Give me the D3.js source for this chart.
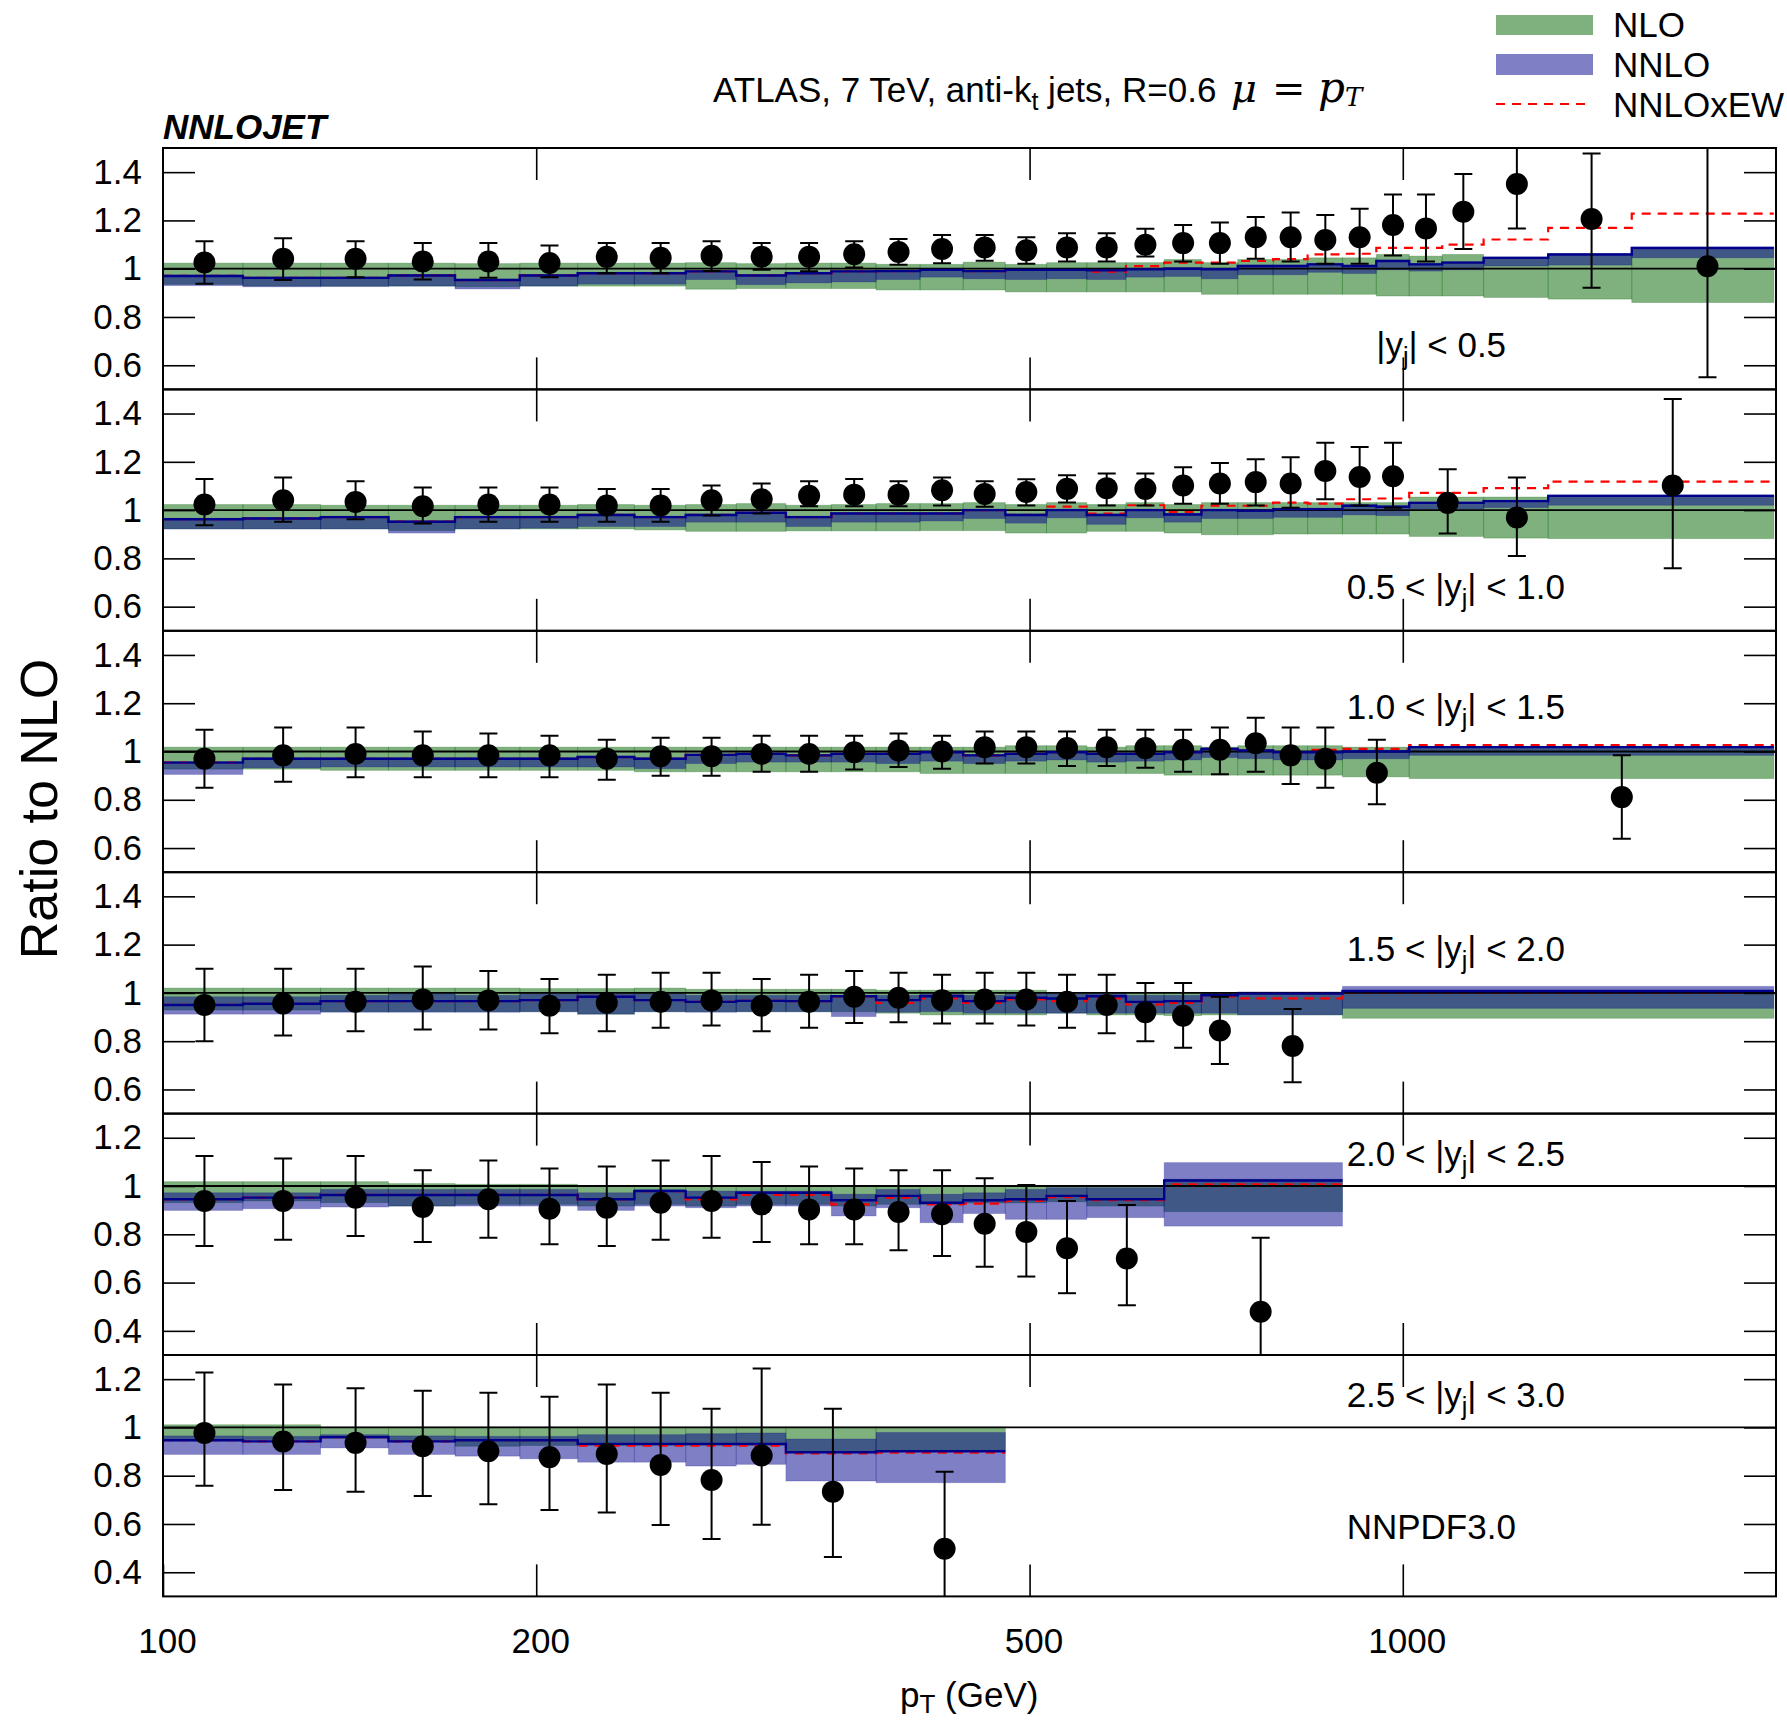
<!DOCTYPE html>
<html>
<head>
<meta charset="utf-8">
<script src="https://cdn.jsdelivr.net/npm/d3@7"></script>
<style>
  html, body { margin: 0; padding: 0; background: #fff; }
  svg { display: block; font-family: "Liberation Sans", Arial, sans-serif; }
</style>
</head>
<body>
<svg id="chart" width="1787" height="1721"></svg>
<script>
// ---- x axis ----
const xDomain = [100, 2000];
const xTickValues = [100, 200, 500, 1000];

// ---- |y| < 0.5 ----
const edges1 = [100,116,134,152,172,194,216,240,264,290,318,346,376,408,442,478,516,556,598,642,688,736,786,838,894,952,1012,1076,1162,1310,1530,1992];
const data1 = [1.026,1.041,1.041,1.030,1.030,1.024,1.049,1.045,1.054,1.050,1.050,1.060,1.069,1.082,1.088,1.076,1.088,1.088,1.099,1.106,1.106,1.130,1.130,1.119,1.130,1.181,1.167,1.236,1.351,1.206,1.010];
const lo1 = [0.938,0.953,0.965,0.955,0.962,0.965,0.981,0.981,0.990,0.996,0.989,1.005,1.016,1.023,1.033,1.020,1.030,1.030,1.051,1.030,1.020,1.041,1.030,1.020,1.020,1.055,1.030,1.082,1.167,0.921,0.550];
const hi1 = [1.114,1.126,1.114,1.106,1.106,1.096,1.106,1.106,1.114,1.106,1.106,1.114,1.123,1.140,1.140,1.130,1.147,1.147,1.166,1.181,1.191,1.214,1.233,1.222,1.248,1.307,1.307,1.392,1.520,1.477,1.620];
const nloLo1 = [0.935,0.928,0.928,0.928,0.925,0.928,0.928,0.928,0.915,0.918,0.918,0.918,0.912,0.912,0.912,0.904,0.904,0.904,0.904,0.904,0.894,0.894,0.894,0.894,0.894,0.887,0.887,0.887,0.881,0.874,0.860];
const nloHi1 = [1.023,1.023,1.023,1.023,1.021,1.023,1.023,1.023,1.025,1.021,1.023,1.023,1.018,1.018,1.027,1.018,1.025,1.025,1.025,1.038,1.025,1.038,1.038,1.045,1.045,1.059,1.052,1.059,1.045,1.059,1.080];
const nnlo1 = [0.970,0.962,0.962,0.972,0.953,0.972,0.981,0.981,0.989,0.972,0.981,0.989,0.990,0.995,0.990,0.995,0.995,0.993,0.997,1.000,0.998,1.011,1.011,1.018,1.011,1.032,1.018,1.025,1.045,1.059,1.086];
const nnloLo1 = [0.930,0.925,0.926,0.928,0.916,0.928,0.936,0.936,0.955,0.934,0.941,0.945,0.955,0.965,0.958,0.955,0.958,0.955,0.965,0.968,0.958,0.975,0.975,0.985,0.980,0.995,0.990,0.995,1.011,1.015,1.045];
const nnloHi1 = [0.974,0.966,0.966,0.976,0.957,0.976,0.985,0.985,0.993,0.976,0.985,0.993,0.994,0.999,0.994,0.999,0.999,0.997,1.001,1.004,1.002,1.015,1.015,1.022,1.015,1.036,1.022,1.029,1.049,1.063,1.090];
const ew1 = [0.970,0.962,0.962,0.972,0.953,0.972,0.981,0.981,0.989,0.972,0.981,0.989,0.990,0.995,0.990,0.995,0.995,0.988,1.011,1.025,1.025,1.032,1.040,1.059,1.062,1.086,1.086,1.100,1.121,1.169,1.228];

// ---- 0.5 < |y| < 1.0 ----
const edges2 = [100,116,134,152,172,194,216,240,264,290,318,346,376,408,442,478,516,556,598,642,688,736,786,838,894,952,1012,1162,1310,1992];
const data2 = [1.023,1.041,1.034,1.016,1.023,1.023,1.019,1.019,1.041,1.045,1.059,1.064,1.064,1.082,1.067,1.075,1.088,1.091,1.088,1.102,1.110,1.116,1.110,1.162,1.137,1.140,1.030,0.969,1.102];
const lo2 = [0.937,0.952,0.962,0.944,0.952,0.952,0.952,0.952,0.978,0.986,1.016,1.016,1.016,1.019,1.014,1.019,1.031,1.019,1.019,1.026,1.026,1.019,1.010,1.045,1.019,1.010,0.903,0.810,0.759];
const hi2 = [1.129,1.135,1.120,1.094,1.094,1.094,1.087,1.087,1.102,1.110,1.120,1.129,1.120,1.135,1.120,1.128,1.144,1.152,1.152,1.177,1.195,1.211,1.219,1.279,1.261,1.279,1.169,1.135,1.460];
const nloLo2 = [0.922,0.922,0.922,0.915,0.922,0.922,0.922,0.918,0.912,0.912,0.914,0.914,0.914,0.915,0.915,0.905,0.905,0.912,0.912,0.905,0.898,0.898,0.901,0.901,0.901,0.901,0.891,0.884,0.882];
const nloHi2 = [1.023,1.023,1.020,1.020,1.020,1.020,1.023,1.020,1.023,1.027,1.020,1.023,1.027,1.027,1.031,1.023,1.031,1.023,1.031,1.023,1.031,1.031,1.031,1.031,1.031,1.031,1.054,1.054,1.061];
const nnlo2 = [0.962,0.965,0.971,0.952,0.971,0.971,0.980,0.971,0.980,0.989,0.971,0.986,0.986,0.986,1.000,0.980,1.000,0.980,1.000,0.982,1.000,0.997,1.004,1.004,1.018,1.014,1.030,1.037,1.059];
const nnloLo2 = [0.922,0.922,0.922,0.905,0.922,0.925,0.932,0.932,0.950,0.950,0.932,0.950,0.950,0.955,0.965,0.946,0.968,0.941,0.968,0.950,0.965,0.965,0.970,0.970,0.980,0.977,1.004,1.010,1.020];
const nnloHi2 = [0.966,0.969,0.975,0.956,0.975,0.975,0.984,0.975,0.984,0.993,0.975,0.990,0.990,0.990,1.004,0.984,1.004,0.984,1.004,0.986,1.004,1.001,1.008,1.008,1.022,1.018,1.034,1.041,1.063];
const ew2 = [0.962,0.965,0.971,0.952,0.971,0.971,0.980,0.971,0.980,0.989,0.971,0.986,0.986,0.986,1.000,0.980,1.014,0.985,1.020,0.993,1.018,1.018,1.031,1.027,1.045,1.048,1.071,1.091,1.118];

// ---- 1.0 < |y| < 1.5 ----
const edges3 = [100,116,134,152,172,194,216,240,264,290,318,346,376,408,442,478,516,556,598,642,688,736,786,838,894,1012,1992];
const data3 = [0.970,0.984,0.990,0.984,0.984,0.984,0.970,0.980,0.980,0.990,0.990,0.997,1.004,1.000,1.018,1.018,1.014,1.018,1.014,1.007,1.007,1.034,0.984,0.970,0.912,0.811];
const lo3 = [0.850,0.875,0.893,0.893,0.893,0.893,0.883,0.900,0.900,0.916,0.916,0.925,0.936,0.929,0.950,0.950,0.940,0.940,0.933,0.916,0.906,0.916,0.865,0.850,0.782,0.639];
const hi3 = [1.090,1.099,1.099,1.083,1.075,1.065,1.049,1.057,1.057,1.065,1.065,1.065,1.075,1.065,1.083,1.083,1.083,1.090,1.090,1.090,1.099,1.140,1.099,1.099,1.049,0.984];
const nloLo3 = [0.927,0.927,0.922,0.922,0.922,0.922,0.922,0.916,0.916,0.916,0.916,0.916,0.916,0.909,0.909,0.909,0.909,0.909,0.909,0.902,0.902,0.902,0.902,0.902,0.895,0.888];
const nloHi3 = [1.018,1.018,1.018,1.018,1.018,1.018,1.018,1.018,1.018,1.018,1.018,1.018,1.018,1.018,1.018,1.024,1.024,1.018,1.024,1.024,1.018,1.024,1.024,1.024,1.018,1.018];
const nnlo3 = [0.954,0.970,0.970,0.970,0.970,0.970,0.977,0.970,0.986,0.990,0.984,0.990,0.990,0.997,0.984,0.990,0.997,0.990,0.990,0.997,1.011,1.004,0.997,0.997,1.000,1.018];
const nnloLo3 = [0.905,0.932,0.936,0.936,0.936,0.936,0.936,0.929,0.950,0.956,0.956,0.956,0.950,0.960,0.950,0.960,0.965,0.956,0.960,0.965,0.975,0.970,0.965,0.965,0.970,0.984];
const nnloHi3 = [0.958,0.974,0.974,0.974,0.974,0.974,0.981,0.974,0.990,0.994,0.988,0.994,0.994,1.001,0.988,0.994,1.001,0.994,0.994,1.001,1.015,1.008,1.001,1.001,1.004,1.022];
const ew3 = [0.954,0.970,0.970,0.970,0.970,0.970,0.977,0.970,0.986,0.990,0.984,0.990,0.990,0.997,0.984,0.990,0.997,0.990,0.990,0.997,1.011,1.004,0.997,1.007,1.011,1.027];

// ---- 1.5 < |y| < 2.0 ----
const edges4 = [100,116,134,152,172,194,216,240,264,290,318,346,376,408,442,478,516,556,598,642,688,736,894,1992];
const data4 = [0.950,0.956,0.963,0.973,0.969,0.947,0.959,0.963,0.969,0.947,0.963,0.984,0.980,0.970,0.973,0.973,0.963,0.950,0.920,0.905,0.844,0.780];
const lo4 = [0.800,0.824,0.841,0.848,0.848,0.833,0.841,0.856,0.865,0.841,0.856,0.875,0.878,0.873,0.873,0.865,0.856,0.833,0.800,0.773,0.705,0.630];
const hi4 = [1.100,1.100,1.100,1.109,1.091,1.058,1.075,1.083,1.083,1.058,1.075,1.091,1.083,1.075,1.083,1.083,1.075,1.075,1.041,1.041,0.984,0.933];
const nloLo4 = [0.929,0.929,0.922,0.922,0.922,0.922,0.912,0.922,0.922,0.922,0.922,0.922,0.916,0.909,0.909,0.909,0.916,0.909,0.909,0.906,0.909,0.909,0.895];
const nloHi4 = [1.020,1.020,1.020,1.020,1.020,1.018,1.018,1.020,1.015,1.015,1.015,1.015,1.011,1.011,1.011,1.011,1.002,1.002,1.002,1.002,1.002,1.002,1.004];
const nnlo4 = [0.950,0.955,0.966,0.966,0.966,0.970,0.984,0.970,0.963,0.967,0.966,0.986,0.970,0.986,0.966,0.980,0.977,0.986,0.963,0.966,0.990,0.997,1.008];
const nnloLo4 = [0.912,0.912,0.920,0.920,0.920,0.922,0.912,0.922,0.920,0.922,0.922,0.902,0.920,0.922,0.916,0.916,0.916,0.916,0.916,0.916,0.916,0.909,0.936];
const nnloHi4 = [0.984,0.984,0.990,0.997,0.990,0.997,0.997,0.997,0.990,0.990,0.990,0.990,0.990,0.997,0.990,0.997,0.997,0.997,0.990,0.990,1.000,1.004,1.027];
const ew4 = [0.950,0.955,0.966,0.966,0.966,0.970,0.984,0.970,0.963,0.967,0.966,0.986,0.959,0.977,0.959,0.973,0.966,0.977,0.952,0.959,0.986,0.977,1.000];

// ---- 2.0 < |y| < 2.5 ----
const edges5 = [100,116,134,152,172,194,216,240,264,290,318,346,376,408,442,478,516,556,642,894];
const data5 = [0.938,0.938,0.952,0.913,0.945,0.906,0.910,0.931,0.938,0.924,0.903,0.903,0.892,0.883,0.844,0.810,0.742,0.700,0.479];
const lo5 = [0.752,0.777,0.793,0.768,0.786,0.759,0.752,0.777,0.786,0.768,0.759,0.759,0.734,0.710,0.666,0.625,0.556,0.506,0.250];
const hi5 = [1.124,1.114,1.124,1.065,1.106,1.073,1.081,1.106,1.124,1.099,1.081,1.073,1.065,1.065,1.032,1.004,0.938,0.921,0.786];
const nloLo5 = [0.931,0.938,0.931,0.917,0.924,0.924,0.917,0.924,0.917,0.924,0.924,0.917,0.924,0.924,0.930,0.930,0.935,0.917,0.894];
const nloHi5 = [1.018,1.018,1.018,1.010,1.007,1.007,1.002,1.002,1.002,1.002,1.002,1.002,1.002,1.002,1.002,1.002,1.002,1.002,1.028];
const nnlo5 = [0.945,0.952,0.963,0.963,0.963,0.963,0.945,0.979,0.952,0.972,0.972,0.941,0.959,0.931,0.941,0.945,0.959,0.945,1.023];
const nnloLo5 = [0.899,0.906,0.913,0.917,0.917,0.917,0.899,0.917,0.910,0.917,0.917,0.876,0.910,0.848,0.886,0.862,0.862,0.869,0.834];
const nnloHi5 = [0.972,0.972,0.986,0.986,0.986,0.986,0.972,0.986,0.979,0.979,0.979,0.966,0.986,0.966,0.972,0.986,0.993,0.993,1.097];
const ew5 = [0.945,0.952,0.963,0.963,0.963,0.963,0.945,0.979,0.945,0.963,0.963,0.924,0.952,0.924,0.927,0.938,0.954,0.941,1.007];

// ---- 2.5 < |y| < 3.0 ----
const edges6 = [100,116,134,152,172,194,216,240,264,290,318,376,478];
const data6 = [0.977,0.942,0.936,0.922,0.901,0.877,0.890,0.844,0.782,0.884,0.734,0.497];
const lo6 = [0.758,0.741,0.733,0.716,0.682,0.658,0.648,0.596,0.538,0.597,0.463,0.200];
const hi6 = [1.227,1.178,1.162,1.152,1.144,1.127,1.178,1.144,1.077,1.244,1.077,0.816];
const nloLo6 = [0.950,0.950,0.955,0.945,0.922,0.925,0.925,0.925,0.925,0.925,0.897,0.901];
const nloHi6 = [1.011,1.011,1.002,1.002,1.002,1.002,1.002,1.002,1.002,1.002,1.002,1.002];
const nnlo6 = [0.947,0.942,0.960,0.942,0.947,0.947,0.932,0.932,0.932,0.932,0.897,0.901];
const nnloLo6 = [0.888,0.888,0.915,0.888,0.881,0.870,0.856,0.856,0.840,0.847,0.778,0.771];
const nnloHi6 = [0.965,0.963,0.970,0.965,0.963,0.963,0.970,0.970,0.974,0.977,0.952,0.979];
const ew6 = [0.947,0.942,0.960,0.942,0.947,0.947,0.925,0.925,0.925,0.925,0.892,0.895];

// ---- panel labels and ranges ----
const rapidityLabels = [["", "0.5"], ["0.5 < ", "1.0"], ["1.0 < ", "1.5"], ["1.5 < ", "2.0"], ["2.0 < ", "2.5"], ["2.5 < ", "3.0"]];
const yDomains = [[0.5, 1.5], [0.5, 1.5], [0.5, 1.5], [0.5, 1.5], [0.3, 1.3], [0.3, 1.3]];
const yTicksHigh = [0.6, 0.8, 1.0, 1.2, 1.4];
const yTicksLow = [0.4, 0.6, 0.8, 1.0, 1.2];
const labelAnchors = [[952, 0.636], [901, 0.630], [901, 1.135], [901, 1.134], [901, 1.084], [901, 1.083]];

const panels = [
  {edges: edges1, data: data1, lo: lo1, hi: hi1, nloLo: nloLo1, nloHi: nloHi1, nnlo: nnlo1, nnloLo: nnloLo1, nnloHi: nnloHi1, ew: ew1},
  {edges: edges2, data: data2, lo: lo2, hi: hi2, nloLo: nloLo2, nloHi: nloHi2, nnlo: nnlo2, nnloLo: nnloLo2, nnloHi: nnloHi2, ew: ew2},
  {edges: edges3, data: data3, lo: lo3, hi: hi3, nloLo: nloLo3, nloHi: nloHi3, nnlo: nnlo3, nnloLo: nnloLo3, nnloHi: nnloHi3, ew: ew3},
  {edges: edges4, data: data4, lo: lo4, hi: hi4, nloLo: nloLo4, nloHi: nloHi4, nnlo: nnlo4, nnloLo: nnloLo4, nnloHi: nnloHi4, ew: ew4},
  {edges: edges5, data: data5, lo: lo5, hi: hi5, nloLo: nloLo5, nloHi: nloHi5, nnlo: nnlo5, nnloLo: nnloLo5, nnloHi: nnloHi5, ew: ew5},
  {edges: edges6, data: data6, lo: lo6, hi: hi6, nloLo: nloLo6, nloHi: nloHi6, nnlo: nnlo6, nnloLo: nnloLo6, nnloHi: nnloHi6, ew: ew6}
];

// ---- drawing ----
const svg = d3.select("#chart");
const X0 = 163, X1 = 1776, TOP = 148, PH = 241.4;
const FONT = 35;
const SERIF = '"DejaVu Serif", "Liberation Serif", serif';
const GREEN = "rgba(0,100,0,0.5)";
const BLUE = "rgba(0,0,139,0.5)";
const x = d3.scaleLog().domain(xDomain).range([X0, X1]);

function stepPoints(edges, vals) {
  return edges.map((e, i) => [e, vals[Math.min(i, vals.length - 1)]]);
}

panels.forEach((p, k) => {
  const top = TOP + k * PH, bot = top + PH;
  const y = d3.scaleLinear().domain(yDomains[k]).range([bot, top]);
  const clipId = "panel-clip-" + k;
  svg.append("clipPath").attr("id", clipId)
    .append("rect").attr("x", X0).attr("y", top).attr("width", X1 - X0).attr("height", PH);

  const g = svg.append("g").attr("clip-path", `url(#${clipId})`);
  const bins = d3.range(p.edges.length - 1).map(i => ({a: p.edges[i], b: p.edges[i + 1], i}));

  // NLO scale band
  g.selectAll("rect.nlo").data(bins).join("rect").attr("class", "nlo")
    .attr("x", d => x(d.a)).attr("width", d => x(d.b) - x(d.a))
    .attr("y", d => y(p.nloHi[d.i])).attr("height", d => y(p.nloLo[d.i]) - y(p.nloHi[d.i]))
    .attr("fill", GREEN).attr("stroke", "rgba(0,100,0,0.25)").attr("stroke-width", 1);

  // NNLO scale band
  g.selectAll("rect.nnlo").data(bins).join("rect").attr("class", "nnlo")
    .attr("x", d => x(d.a)).attr("width", d => x(d.b) - x(d.a))
    .attr("y", d => y(p.nnloHi[d.i])).attr("height", d => y(p.nnloLo[d.i]) - y(p.nnloHi[d.i]))
    .attr("fill", BLUE).attr("stroke", "rgba(0,0,139,0.2)").attr("stroke-width", 1);

  const step = d3.line().x(d => x(d[0])).y(d => y(d[1])).curve(d3.curveStepAfter);

  // NNLO x EW
  g.append("path").attr("d", step(stepPoints(p.edges, p.ew)))
    .attr("fill", "none").attr("stroke", "#ff0000").attr("stroke-width", 2.2)
    .attr("stroke-dasharray", "9,7");

  // unity
  g.append("line").attr("x1", X0).attr("x2", X1).attr("y1", y(1)).attr("y2", y(1))
    .attr("stroke", "#000").attr("stroke-width", 1.8);

  // NNLO central
  g.append("path").attr("d", step(stepPoints(p.edges, p.nnlo)))
    .attr("fill", "none").attr("stroke", "#00008b").attr("stroke-width", 2.4);

  // data points with error bars
  const pts = p.data.map((v, i) => ({c: (p.edges[i] + p.edges[i + 1]) / 2, v, lo: p.lo[i], hi: p.hi[i]}));
  const pg = g.selectAll("g.pt").data(pts).join("g").attr("class", "pt");
  pg.append("line").attr("x1", d => x(d.c)).attr("x2", d => x(d.c))
    .attr("y1", d => y(d.lo)).attr("y2", d => y(d.hi)).attr("stroke", "#000").attr("stroke-width", 2);
  pg.append("line").attr("x1", d => x(d.c) - 9).attr("x2", d => x(d.c) + 9)
    .attr("y1", d => y(d.hi)).attr("y2", d => y(d.hi)).attr("stroke", "#000").attr("stroke-width", 2);
  pg.append("line").attr("x1", d => x(d.c) - 9).attr("x2", d => x(d.c) + 9)
    .attr("y1", d => y(d.lo)).attr("y2", d => y(d.lo)).attr("stroke", "#000").attr("stroke-width", 2);
  pg.append("circle").attr("cx", d => x(d.c)).attr("cy", d => y(d.v)).attr("r", 11).attr("fill", "#000");

  // axes
  const yTicks = yDomains[k][0] < 0.4 ? yTicksLow : yTicksHigh;
  const yl = svg.append("g").attr("transform", `translate(${X0},0)`)
    .call(d3.axisLeft(y).tickValues(yTicks).tickSize(-32).tickPadding(21)
      .tickFormat(d => d === 1 ? "1" : d3.format(".1f")(d)));
  const yr = svg.append("g").attr("transform", `translate(${X1},0)`)
    .call(d3.axisRight(y).tickValues(yTicks).tickSize(-32).tickFormat(""));
  const xt = svg.append("g").attr("transform", `translate(0,${top})`)
    .call(d3.axisTop(x).tickValues([200, 500, 1000]).tickSize(-32).tickFormat(""));
  const xb = svg.append("g").attr("transform", `translate(0,${bot})`)
    .call(d3.axisBottom(x).tickValues(k === panels.length - 1 ? xTickValues : [200, 500, 1000])
      .tickSize(-32).tickPadding(32).tickFormat(k === panels.length - 1 ? d3.format("d") : ""));
  [yl, yr, xt, xb].forEach(a => {
    a.select(".domain").remove();
    a.selectAll(".tick line").attr("stroke", "#000").attr("stroke-width", 1.6);
    a.selectAll(".tick text").attr("font-size", FONT).attr("fill", "#000")
      .attr("font-family", '"Liberation Sans", Arial, sans-serif');
  });
  xb.selectAll(".tick text").attr("dx", 4);

  // frame
  svg.append("rect").attr("x", X0).attr("y", top).attr("width", X1 - X0).attr("height", PH)
    .attr("fill", "none").attr("stroke", "#000").attr("stroke-width", 2);

  // rapidity label
  const [lp, lv] = labelAnchors[k];
  const t = svg.append("text").attr("x", x(lp)).attr("y", y(lv)).attr("font-size", FONT).attr("fill", "#000");
  t.append("tspan").text(rapidityLabels[k][0] + "|y");
  t.append("tspan").attr("font-size", 25).attr("dy", 8).text("j");
  t.append("tspan").attr("dy", -8).text("| < " + rapidityLabels[k][1]);

  if (k === panels.length - 1) {
    svg.append("text").attr("x", x(901)).attr("y", y(0.536)).attr("font-size", FONT).text("NNPDF3.0");
  }
});

// ---- titles ----
svg.append("text").attr("x", X0).attr("y", 139).attr("font-size", FONT)
  .attr("font-weight", "bold").attr("font-style", "italic").text("NNLOJET");

const title = svg.append("text").attr("x", 713).attr("y", 102).attr("font-size", FONT);
title.append("tspan").text("ATLAS, 7 TeV, anti-k");
title.append("tspan").attr("font-size", 25).attr("dy", 8).text("t");
title.append("tspan").attr("dy", -8).text(" jets, R=0.6");
const math = svg.append("text").attr("y", 102).attr("font-family", SERIF);
math.append("tspan").attr("x", 1231).attr("font-size", 40).attr("font-style", "italic").text("μ");
math.append("tspan").attr("x", 1272).attr("font-size", 40).text("=");
math.append("tspan").attr("x", 1318).attr("font-size", 42).attr("font-style", "italic").text("p");
math.append("tspan").attr("font-size", 26).attr("font-style", "italic").attr("dy", 4).text("T");

// axis titles
const xtitle = svg.append("text").attr("x", 900).attr("y", 1707).attr("font-size", FONT);
xtitle.append("tspan").text("p");
xtitle.append("tspan").attr("font-size", 26).attr("dy", 6).text("T");
xtitle.append("tspan").attr("dy", -6).text(" (GeV)");

svg.append("text").attr("transform", "translate(57,809) rotate(-90)")
  .attr("text-anchor", "middle").attr("font-size", 52).text("Ratio to NLO");

// ---- legend ----
const legend = svg.append("g");
legend.append("rect").attr("x", 1496).attr("y", 15).attr("width", 97).attr("height", 20).attr("fill", GREEN);
legend.append("rect").attr("x", 1496).attr("y", 54).attr("width", 97).attr("height", 21).attr("fill", BLUE);
legend.append("line").attr("x1", 1496).attr("x2", 1592).attr("y1", 104).attr("y2", 104)
  .attr("stroke", "#ff0000").attr("stroke-width", 2.2).attr("stroke-dasharray", "9,7");
[["NLO", 37], ["NNLO", 77], ["NNLOxEW", 117]].forEach(([s, yy]) => {
  legend.append("text").attr("x", 1613).attr("y", yy).attr("font-size", FONT).text(s);
});
</script>
</body>
</html>
